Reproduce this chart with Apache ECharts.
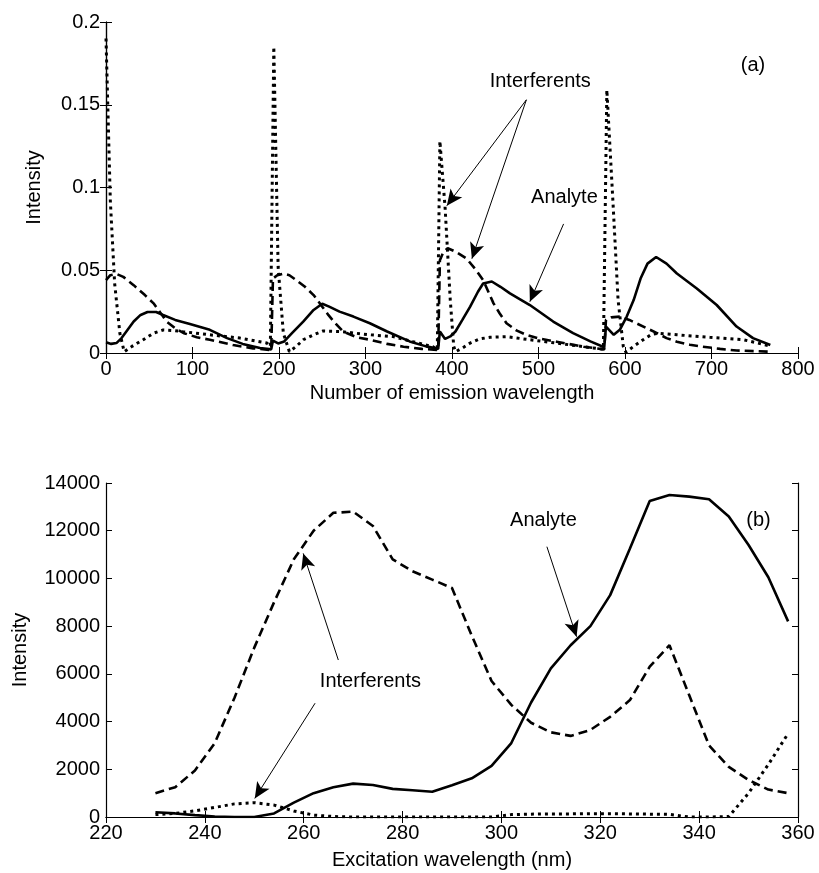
<!DOCTYPE html>
<html>
<head>
<meta charset="utf-8">
<title>Emission / excitation profiles</title>
<script src="https://cdn.jsdelivr.net/npm/echarts@6/dist/echarts.min.js"></script>
<style>
  html, body { margin: 0; padding: 0; background: #fff; }
  #chart { width: 819px; height: 873px; }
</style>
</head>
<body>
<div id="chart"></div>
<script>
// ---- panel (a): emission profiles, [index, intensity] ----
const emAnalyte = [
  [0, 0.0065], [6, 0.0055], [12, 0.006], [18, 0.009], [25, 0.014], [32, 0.019], [40, 0.023],
  [48, 0.0248], [58, 0.0248], [66, 0.023], [80, 0.02], [97, 0.0175], [120, 0.014], [140, 0.009],
  [158, 0.0055], [178, 0.003], [191, 0.0022],
  [193, 0.0075], [199, 0.0058], [206, 0.007], [215, 0.012], [228, 0.019], [240, 0.026], [250, 0.0298],
  [258, 0.028], [270, 0.025], [286, 0.022], [305, 0.018], [325, 0.013], [351, 0.007], [370, 0.004],
  [384, 0.0025],
  [386, 0.013], [392, 0.0085], [398, 0.01], [404, 0.013], [412, 0.02], [421, 0.028], [430, 0.037],
  [436, 0.042], [446, 0.0432], [456, 0.04], [467, 0.036], [490, 0.029], [517, 0.019], [540, 0.012],
  [560, 0.007], [576, 0.0035],
  [578, 0.016], [587, 0.011], [594, 0.014], [602, 0.022], [610, 0.032], [618, 0.045], [626, 0.054],
  [636, 0.058], [648, 0.054], [660, 0.048], [683, 0.039], [706, 0.029], [729, 0.016], [748, 0.009],
  [768, 0.0048]
]
const emInterf1 = [
  [0, 0.044], [5, 0.047], [12, 0.0478], [20, 0.046], [32, 0.041], [45, 0.035], [55, 0.03], [62, 0.025],
  [70, 0.019], [80, 0.015], [90, 0.012], [105, 0.0095], [120, 0.008], [147, 0.0048], [170, 0.0028],
  [191, 0.0018],
  [193, 0.045], [198, 0.047], [205, 0.048], [212, 0.047], [220, 0.044], [230, 0.04], [240, 0.035],
  [250, 0.028], [257, 0.023], [265, 0.018], [274, 0.013], [290, 0.0095], [305, 0.008], [325, 0.0055],
  [344, 0.0038], [365, 0.0025], [384, 0.0018],
  [386, 0.056], [390, 0.061], [395, 0.0633], [405, 0.061], [417, 0.057], [428, 0.05], [436, 0.044],
  [442, 0.037], [448, 0.03], [455, 0.024], [463, 0.018], [475, 0.0135], [486, 0.011], [500, 0.0088],
  [521, 0.0068], [552, 0.0038], [576, 0.0022],
  [578, 0.02], [584, 0.0215], [594, 0.022], [605, 0.02], [613, 0.018], [625, 0.015], [637, 0.012],
  [648, 0.009], [660, 0.0068], [675, 0.005], [690, 0.0038], [710, 0.0025], [729, 0.0015], [768, 0.0008]
]
const emInterf2 = [
  [0, 0.19], [5, 0.092], [10, 0.042], [16, 0.012], [21, 0.0008], [30, 0.004], [43, 0.008], [55, 0.012],
  [66, 0.0139], [80, 0.0135], [89, 0.0129], [120, 0.011], [155, 0.009], [186, 0.006], [190, 0.004],
  [194, 0.185], [199, 0.052], [205, 0.012], [212, 0.0008], [220, 0.004], [228, 0.008], [240, 0.011],
  [251, 0.0133], [272, 0.0129], [305, 0.011], [332, 0.0099], [355, 0.0068], [378, 0.0038], [383, 0.002],
  [386, 0.128], [392, 0.088], [398, 0.032], [402, 0.004], [404, 0.0008], [412, 0.003], [421, 0.006],
  [432, 0.0085], [444, 0.0095], [463, 0.0099], [490, 0.008], [521, 0.006], [552, 0.0038], [575, 0.0022],
  [579, 0.159], [586, 0.092], [592, 0.032], [598, 0.004], [601, 0.0005], [610, 0.004], [621, 0.008],
  [630, 0.011], [638, 0.012], [660, 0.011], [698, 0.0095], [737, 0.008], [768, 0.0042]
]

// ---- panel (b): excitation profiles ----
const exWavelength = [230, 234, 238, 242, 246, 250, 254, 258, 262, 266, 270, 274, 278, 282, 286, 290, 294,
  298, 302, 306, 310, 314, 318, 322, 326, 330, 334, 338, 342, 346, 350, 354, 358]
const exAnalyte = [200, 150, 80, 20, 0, 0, 150, 600, 1000, 1250, 1400, 1340, 1180, 1120, 1060, 1330, 1620,
  2140, 3100, 4800, 6230, 7200, 8000, 9300, 11250, 13250, 13500, 13430, 13320, 12600, 11400, 10050, 8200]
const exInterf1 = [1000, 1250, 1950, 3100, 5000, 7100, 9000, 10800, 12000, 12750, 12800, 12200, 10800, 10300,
  9950, 9600, 7600, 5700, 4700, 3950, 3550, 3400, 3650, 4200, 4900, 6300, 7200, 5100, 3000, 2100, 1550, 1150, 1000]
const exInterf2 = [100, 150, 260, 400, 550, 600, 500, 250, 80, 20, 0, 0, 0, 0, 0, 0, 0, 0, 100, 120, 130,
  130, 140, 140, 130, 120, 110, 0, 0, 20, 1000, 2200, 3500]

// annotation text and arrows, in data coordinates
const labelsA = [
  { text: 'Interferents', x: 502, y: 0.164 },
  { text: 'Analyte', x: 530, y: 0.094 },
  { text: '(a)', x: 748, y: 0.174 }
]
const arrowsA = [
  [[486, 0.153], [394, 0.089]],
  [[486, 0.153], [423, 0.057]],
  [[529, 0.078], [490, 0.031]]
]
const labelsB = [
  { text: 'Analyte', x: 308.5, y: 12420 },
  { text: '(b)', x: 352, y: 12420 },
  { text: 'Interferents', x: 273.5, y: 5670 }
]
const arrowsB = [
  [[309.2, 11330], [315.2, 7560]],
  [[267, 6580], [259.9, 11050]],
  [[262.3, 4770], [250.1, 780]]
]

const FONT = 'Liberation Sans, Arial, sans-serif'
const FS = 20

const chart = echarts.init(document.getElementById('chart'), null, { renderer: 'canvas' })

const styleOf = kind => {
  if (kind === 'solid') return { color: '#000', width: 2.6, type: 'solid' }
  if (kind === 'dashed') return { color: '#000', width: 2.6, type: [9, 5] }
  return { color: '#000', width: 3, type: [3, 4] }
}

const lineSeries = (data, kind, idx) => ({
  type: 'line',
  xAxisIndex: idx,
  yAxisIndex: idx,
  data,
  showSymbol: false,
  symbol: 'none',
  silent: true,
  animation: false,
  lineStyle: styleOf(kind)
})

const annotationSeries = (labels, arrows, idx) => ({
  type: 'line',
  xAxisIndex: idx,
  yAxisIndex: idx,
  data: [],
  silent: true,
  animation: false,
  markPoint: {
    symbol: 'circle',
    symbolSize: 0,
    label: {
      show: true,
      position: 'inside',
      color: '#000',
      fontSize: FS,
      fontFamily: FONT
    },
    data: labels.map(l => ({ coord: [l.x, l.y], value: l.text, label: { formatter: l.text } }))
  },
  markLine: {
    symbol: ['none', 'arrow'],
    symbolSize: [11, 16],
    lineStyle: { color: '#000', width: 1, type: 'solid' },
    label: { show: false },
    data: arrows.map(a => [{ coord: a[0] }, { coord: a[1] }])
  }
})

const exPairs = arr => exWavelength.map((w, i) => [w, arr[i]])

const plainNumber = v => String(+v.toFixed(4))

const axisCommon = {
  axisLine: { show: true, lineStyle: { color: '#000', width: 1.2 } },
  axisTick: { show: true, inside: true, length: 6, lineStyle: { color: '#000' } },
  splitLine: { show: false },
  axisLabel: { color: '#000', fontSize: FS, fontFamily: FONT, formatter: plainNumber },
  nameTextStyle: { color: '#000', fontSize: FS, fontFamily: FONT }
}

const grids = [
  { left: 106, top: 22, width: 692, height: 331 },
  { left: 106, top: 483, width: 692, height: 334 }
]

const xMain = [
  { min: 0, max: 800, interval: 100, name: 'Number of emission wavelength', nameGap: 30 },
  { min: 220, max: 360, interval: 20, name: 'Excitation wavelength (nm)', nameGap: 33 }
]
const yMain = [
  { min: 0, max: 0.2, interval: 0.05, name: 'Intensity', nameGap: 62 },
  { min: 0, max: 14000, interval: 2000, name: 'Intensity', nameGap: 76 }
]

const xAxis = []
const yAxis = []
grids.forEach((g, i) => {
  xAxis.push({
    ...axisCommon,
    type: 'value',
    gridIndex: i,
    position: 'bottom',
    min: xMain[i].min,
    max: xMain[i].max,
    interval: xMain[i].interval,
    name: xMain[i].name,
    nameLocation: 'middle',
    nameGap: xMain[i].nameGap,
    axisLabel: { ...axisCommon.axisLabel, margin: 6 }
  })
  yAxis.push({
    ...axisCommon,
    type: 'value',
    gridIndex: i,
    position: 'left',
    min: yMain[i].min,
    max: yMain[i].max,
    interval: yMain[i].interval,
    name: yMain[i].name,
    nameLocation: 'middle',
    nameGap: yMain[i].nameGap,
    axisLabel: { ...axisCommon.axisLabel, margin: 6 }
  })
})
// box frame: mirrored axes on top / right with inward ticks
grids.forEach((g, i) => {
  xAxis.push({
    ...axisCommon,
    type: 'value',
    gridIndex: i,
    position: 'top',
    min: xMain[i].min,
    max: xMain[i].max,
    interval: xMain[i].interval,
    axisLabel: { show: false }
  })
  yAxis.push({
    ...axisCommon,
    type: 'value',
    gridIndex: i,
    position: 'right',
    min: yMain[i].min,
    max: yMain[i].max,
    interval: yMain[i].interval,
    axisLabel: { show: false }
  })
})

chart.setOption({
  backgroundColor: '#fff',
  animation: false,
  grid: grids,
  xAxis,
  yAxis,
  series: [
    lineSeries(emInterf2, 'dotted', 0),
    lineSeries(emInterf1, 'dashed', 0),
    lineSeries(emAnalyte, 'solid', 0),
    annotationSeries(labelsA, arrowsA, 0),
    lineSeries(exPairs(exInterf2), 'dotted', 1),
    lineSeries(exPairs(exInterf1), 'dashed', 1),
    lineSeries(exPairs(exAnalyte), 'solid', 1),
    annotationSeries(labelsB, arrowsB, 1)
  ]
})
</script>
</body>
</html>
